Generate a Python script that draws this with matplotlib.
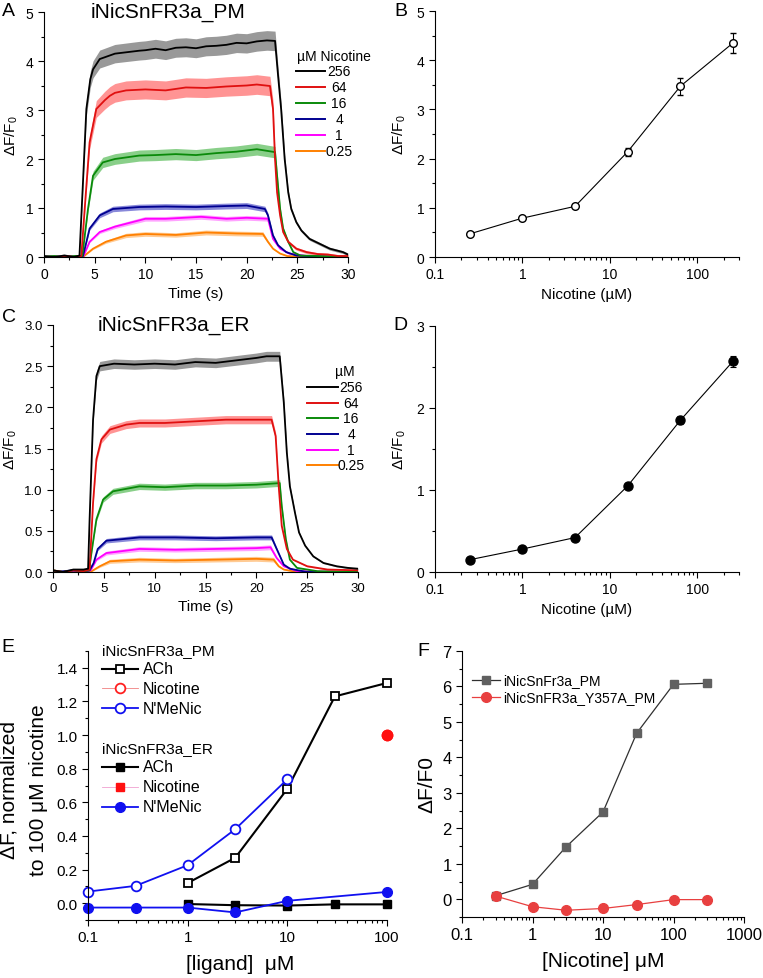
import numpy as np
import matplotlib
matplotlib.use("Agg")
import matplotlib.pyplot as plt
from matplotlib.lines import Line2D
from matplotlib.ticker import MultipleLocator, LogLocator, NullFormatter, FixedLocator

plt.rcParams['font.family'] = ['Liberation Sans', 'DejaVu Sans']
plt.rcParams['mathtext.fontset'] = 'custom'
plt.rcParams['mathtext.rm'] = 'Liberation Sans'
plt.rcParams['mathtext.it'] = 'Liberation Sans:italic'

W, H = 763, 979

# ---------------- data ----------------
conc_labels = ['256', '64', '16', '4', '1', '0.25']
trace_colors = ['black', '#e01010', '#0a8a0a', '#000090', '#ff00ff', '#ff8000']
band_colors = ['#808080', '#ff7a7a', '#6cc46c', '#6a6ad0', '#ff8cff', '#ffbe7a']

# panel A traces (PM), time (s) and dF/F0
tA = [
    [0, 1, 2, 3, 3.5, 3.84, 4.18, 4.57, 4.84, 5.5, 7, 9.4, 10, 11, 12, 13, 14, 15, 16, 17, 18, 19, 20, 21, 22, 22.8, 23.1, 23.4, 23.75, 24.1, 24.4, 24.9, 25.4, 26.2, 27.2, 28.2, 29.5, 30],
    [0, 1, 2, 3, 3.68, 4.1, 4.5, 5.16, 6, 6.5, 7, 8.1, 10, 12, 14, 16, 18, 20, 21, 22.3, 22.6, 22.8, 23.0, 23.3, 23.6, 24.1, 24.9, 25.9, 27, 28, 29, 30],
    [0, 1, 2, 3, 3.78, 4.34, 4.84, 5.8, 7, 9.4, 11, 13, 15, 17, 19, 21, 22.8, 23.0, 23.3, 23.6, 24.1, 24.6, 25.3, 27, 30],
    [0, 1, 2, 3, 3.85, 4.5, 5.5, 6.8, 9.4, 12, 15, 18, 20, 21.8, 22.1, 22.6, 23.1, 23.9, 24.9, 27, 30],
    [0, 1, 2, 3, 3.9, 4.5, 5.5, 7, 10, 12, 15.5, 18, 20, 22.1, 22.6, 23.3, 24.2, 26, 30],
    [0, 1, 2, 3, 3.95, 4.84, 6.1, 8.1, 10, 13, 16, 19, 21.6, 22.1, 22.6, 23.3, 24, 26, 30],
]
yA = [
    [0.02, 0.0, 0.03, 0.0, 0.03, 1.5, 3.02, 3.63, 3.83, 4.04, 4.15, 4.21, 4.22, 4.25, 4.22, 4.27, 4.28, 4.26, 4.3, 4.31, 4.33, 4.37, 4.36, 4.4, 4.42, 4.41, 3.7, 3.02, 2.0, 1.32, 0.98, 0.71, 0.54, 0.37, 0.27, 0.17, 0.1, 0.05],
    [0.0, -0.02, 0.02, 0.0, 0.02, 1.22, 2.34, 3.02, 3.2, 3.29, 3.35, 3.4, 3.42, 3.4, 3.46, 3.45, 3.48, 3.5, 3.52, 3.49, 3.02, 2.0, 1.32, 0.85, 0.51, 0.31, 0.17, 0.1, 0.06, 0.05, 0.02, 0.02],
    [0.0, 0.02, -0.01, 0.02, 0.02, 0.98, 1.66, 1.93, 2.0, 2.07, 2.08, 2.1, 2.08, 2.12, 2.15, 2.2, 2.14, 1.66, 0.98, 0.58, 0.31, 0.1, 0.03, 0.02, 0.0],
    [0.0, 0.01, 0.0, 0.01, 0.02, 0.58, 0.85, 0.98, 1.02, 1.03, 1.02, 1.04, 1.05, 0.98, 0.85, 0.44, 0.24, 0.1, 0.03, 0.01, 0.0],
    [0.0, 0.0, 0.01, 0.0, 0.02, 0.31, 0.51, 0.62, 0.78, 0.78, 0.82, 0.78, 0.8, 0.78, 0.37, 0.17, 0.07, 0.02, 0.0],
    [0.0, 0.01, 0.0, 0.0, 0.02, 0.17, 0.31, 0.44, 0.47, 0.45, 0.5, 0.48, 0.47, 0.31, 0.17, 0.07, 0.02, 0.0, 0.0],
]
errA = [0.2, 0.2, 0.12, 0.06, 0.05, 0.05]

# panel C traces (ER)
tC = [
    [0, 1, 2, 3, 3.45, 3.6, 3.94, 4.27, 4.6, 6, 8, 10, 12, 14, 16, 18, 20, 21, 22.3, 22.7, 23.0, 23.3, 23.8, 24.2, 24.8, 25.6, 26.6, 27.9, 29, 30],
    [0, 1, 2, 3, 3.6, 3.94, 4.27, 4.76, 5.6, 7.2, 8.5, 11, 14, 17, 20, 21.5, 21.9, 22.2, 22.5, 23.0, 23.6, 25.0, 27, 30],
    [0, 1, 2, 3, 3.55, 3.78, 4.27, 4.93, 5.9, 8.5, 11, 14, 17, 20, 22.3, 22.5, 22.9, 23.3, 24.0, 26, 30],
    [0, 1, 2, 3, 3.6, 4.0, 4.4, 5.25, 8.5, 12, 16, 20, 21.5, 22.0, 22.7, 23.3, 25, 30],
    [0, 1, 2, 3, 3.7, 4.27, 5.25, 8.5, 12, 16, 20, 21.4, 22.0, 22.7, 24, 30],
    [0, 1, 2, 3, 3.8, 4.6, 5.6, 8.5, 12, 16, 20, 21.7, 22.2, 22.7, 24, 30],
]
yC = [
    [0.02, 0.0, 0.03, 0.03, 0.04, 0.64, 1.85, 2.38, 2.5, 2.53, 2.52, 2.53, 2.52, 2.55, 2.54, 2.57, 2.6, 2.62, 2.62, 2.06, 1.45, 1.04, 0.72, 0.48, 0.32, 0.19, 0.11, 0.07, 0.05, 0.04],
    [0.02, 0.0, 0.02, 0.01, 0.03, 0.84, 1.37, 1.61, 1.73, 1.79, 1.81, 1.81, 1.83, 1.85, 1.85, 1.85, 1.65, 1.04, 0.56, 0.28, 0.15, 0.07, 0.03, 0.02],
    [0.02, 0.0, 0.02, 0.01, 0.02, 0.23, 0.64, 0.88, 0.98, 1.04, 1.03, 1.05, 1.05, 1.06, 1.08, 0.8, 0.4, 0.15, 0.05, 0.01, 0.0],
    [0.0, 0.01, 0.02, 0.01, 0.02, 0.11, 0.28, 0.38, 0.42, 0.42, 0.41, 0.42, 0.42, 0.28, 0.09, 0.04, 0.0, 0.0],
    [0.0, 0.0, 0.01, 0.0, 0.02, 0.15, 0.23, 0.28, 0.27, 0.28, 0.29, 0.3, 0.17, 0.07, 0.01, 0.0],
    [0.0, 0.0, 0.01, 0.0, 0.01, 0.07, 0.13, 0.15, 0.14, 0.15, 0.16, 0.15, 0.07, 0.03, 0.0, 0.0],
]
errC = [0.06, 0.05, 0.04, 0.03, 0.03, 0.03]

# panels B and D: dose response
dose = [0.25, 1, 4, 16, 64, 256]
resp_pm = [0.47, 0.79, 1.03, 2.14, 3.47, 4.35]
err_pm = [0.03, 0.04, 0.04, 0.08, 0.17, 0.21]
resp_er = [0.15, 0.28, 0.42, 1.05, 1.85, 2.57]
err_er = [0.02, 0.02, 0.02, 0.03, 0.05, 0.07]

# panel E: normalized responses
ach_x = [1, 3, 10, 30, 100]
pm_ach = [0.12, 0.27, 0.68, 1.23, 1.31]
er_ach = [-0.005, -0.012, -0.014, -0.007, -0.007]
nic_x = [100]
pm_nic = [1.0]
er_nic = [1.0]
mnic_pm_x = [0.1, 0.3, 1, 3, 10]
pm_mnic = [0.069, 0.103, 0.226, 0.44, 0.737]
mnic_er_x = [0.1, 0.3, 1, 3, 10, 100]
er_mnic = [-0.026, -0.026, -0.026, -0.055, 0.014, 0.067]

# panel F
nic_f = [0.3, 1, 3, 10, 30, 100, 300]
wt_f = [0.1, 0.42, 1.48, 2.46, 4.68, 6.06, 6.09]
mut_f = [0.09, -0.21, -0.31, -0.26, -0.15, -0.01, -0.01]


def box(x0, y0, x1, y1):
    # pixel box (from top-left) -> figure rect
    return [x0 / W, 1 - y1 / H, (x1 - x0) / W, (y1 - y0) / H]


def style(ax, fs):
    for s in ['top', 'right']:
        ax.spines[s].set_visible(False)
    ax.tick_params(which='both', direction='out', labelsize=fs, width=0.8)
    ax.tick_params(which='major', length=4)
    ax.tick_params(which='minor', length=2)


def log_axis(ax):
    ax.set_xscale('log')
    ax.xaxis.set_major_locator(LogLocator(base=10))
    ax.xaxis.set_minor_locator(LogLocator(base=10, subs=np.arange(2, 10)))
    ax.xaxis.set_minor_formatter(NullFormatter())
    ax.xaxis.set_major_formatter(plt.FuncFormatter(lambda v, p: ('%g' % v)))


def text(x, y, s, **kw):
    fig.text(x / W, 1 - y / H, s, **kw)


def legend_line(x0, x1, y, color, lw=1.5, marker=None, **kw):
    xs = [x0 / W, x1 / W]
    ys = [1 - y / H, 1 - y / H]
    fig.add_artist(Line2D(xs, ys, color=color, lw=lw, transform=fig.transFigure))
    if marker:
        fig.add_artist(Line2D([(x0 + x1) / 2 / W], [1 - y / H], marker=marker, transform=fig.transFigure, **kw))


def traces(ax, ts, ys, errs):
    # shaded s.e.m. band (scaled with the response), then the mean trace
    for t, y, bc, e in zip(ts, ys, band_colors, errs):
        t = np.array(t)
        y = np.array(y)
        band = e * np.clip(y / max(y), 0.15, 1)
        ax.fill_between(t, y - band, y + band, color=bc, alpha=0.8, lw=0)
    for t, y, c in zip(ts[::-1], ys[::-1], trace_colors[::-1]):
        ax.plot(t, y, color=c, lw=1.3)


fig = plt.figure(figsize=(W / 100, H / 100), dpi=100)

# ---------------- A ----------------
axA = fig.add_axes(box(44, 13, 348, 258))
traces(axA, tA, yA, errA)
axA.set_xlim(0, 30)
axA.set_ylim(0, 5)
axA.xaxis.set_major_locator(MultipleLocator(5))
axA.xaxis.set_minor_locator(MultipleLocator(2.5))
axA.yaxis.set_major_locator(MultipleLocator(1))
axA.yaxis.set_minor_locator(MultipleLocator(0.5))
style(axA, 10)
axA.set_xlabel('Time (s)', fontsize=11, labelpad=3)
axA.set_ylabel(r'ΔF/F$_0$', fontsize=11, labelpad=4)
text(168, 12, 'iNicSnFR3a_PM', fontsize=15, ha='center', va='center')
text(297, 57, 'µM Nicotine', fontsize=10, ha='left', va='center')
rowsA = [72.3, 88.3, 104, 120, 136, 151.7]
for yy, lab, c in zip(rowsA, conc_labels, trace_colors):
    legend_line(296, 325, yy, c, lw=1.4)
    text(339, yy, lab, fontsize=10, ha='center', va='center')

# ---------------- B ----------------
axB = fig.add_axes(box(435, 12, 739, 258))
axB.errorbar(dose, resp_pm, yerr=err_pm, color='black', lw=0.8, marker='o', ms=5.5,
             mfc='white', mec='black', mew=1.0, capsize=2.5, elinewidth=0.8, capthick=0.8)
log_axis(axB)
axB.set_xlim(0.1, 300)
axB.set_ylim(0, 5)
axB.yaxis.set_major_locator(MultipleLocator(1))
axB.yaxis.set_minor_locator(MultipleLocator(0.5))
style(axB, 10)
axB.set_xlabel('Nicotine (µM)', fontsize=11, labelpad=4)
axB.set_ylabel(r'ΔF/F$_0$', fontsize=11, labelpad=6)

# ---------------- C ----------------
axC = fig.add_axes(box(53, 326, 358, 573))
traces(axC, tC, yC, errC)
axC.set_xlim(0, 30)
axC.set_ylim(0, 3)
axC.xaxis.set_major_locator(MultipleLocator(5))
axC.xaxis.set_minor_locator(MultipleLocator(2.5))
axC.yaxis.set_major_locator(MultipleLocator(0.5))
axC.yaxis.set_minor_locator(MultipleLocator(0.25))
axC.yaxis.set_major_formatter(plt.FuncFormatter(lambda v, p: '%.1f' % v))
style(axC, 9.5)
axC.set_xlabel('Time (s)', fontsize=11, labelpad=3)
axC.set_ylabel(r'ΔF/F$_0$', fontsize=11, labelpad=4)
text(174, 325, 'iNicSnFR3a_ER', fontsize=15, ha='center', va='center')
text(335, 372, 'µM', fontsize=10, ha='left', va='center')
rowsC = [388.3, 404, 419.3, 435, 450.7, 466]
for yy, lab, c in zip(rowsC, conc_labels, trace_colors):
    legend_line(307, 338, yy, c, lw=1.4)
    text(351, yy, lab, fontsize=10, ha='center', va='center')

# ---------------- D ----------------
axD = fig.add_axes(box(435, 327, 739, 573))
axD.errorbar(dose, resp_er, yerr=err_er, color='black', lw=0.8, marker='o', ms=6.5,
             mfc='black', mec='black', capsize=2.5, elinewidth=0.8, capthick=0.8)
log_axis(axD)
axD.set_xlim(0.1, 300)
axD.set_ylim(0, 3)
axD.yaxis.set_major_locator(MultipleLocator(1))
axD.yaxis.set_minor_locator(MultipleLocator(0.5))
style(axD, 10)
axD.set_xlabel('Nicotine (µM)', fontsize=11, labelpad=4)
axD.set_ylabel(r'ΔF/F$_0$', fontsize=11, labelpad=6)

# ---------------- E ----------------
blue = '#1010f0'
axE = fig.add_axes(box(88, 652, 387, 921))
axE.plot(ach_x, er_ach, color='black', lw=1.5, marker='s', ms=6, mfc='black', mec='black', clip_on=False)
axE.plot(mnic_er_x, er_mnic, color=blue, lw=1.3, marker='o', ms=7, mfc=blue, mec=blue, clip_on=False)
axE.plot(ach_x, pm_ach, color='black', lw=1.5, marker='s', ms=6, mfc='white', mec='black', mew=1.3, clip_on=False)
axE.plot(mnic_pm_x, pm_mnic, color=blue, lw=1.3, marker='o', ms=7, mfc='white', mec=blue, mew=1.3, clip_on=False)
axE.plot(nic_x, pm_nic, color='#f08080', lw=0.6, marker='o', ms=7, mfc='white', mec='#ff2020', mew=1.3, clip_on=False)
axE.plot(nic_x, er_nic, color='#f0a0d0', lw=0.6, marker='o', ms=7.5, mfc='#ff1010', mec='#ff1010', clip_on=False)
log_axis(axE)
axE.set_xlim(0.1, 100)
axE.set_ylim(-0.1, 1.5)
axE.yaxis.set_major_locator(FixedLocator([0, 0.2, 0.4, 0.6, 0.8, 1.0, 1.2, 1.4]))
axE.yaxis.set_minor_locator(MultipleLocator(0.1))
axE.yaxis.set_major_formatter(plt.FuncFormatter(lambda v, p: '%.1f' % v))
style(axE, 11)
text(240, 965, '[ligand]  μM', fontsize=15, ha='center', va='center')
text(9, 790, 'ΔF, normalized', fontsize=15, rotation=90, ha='center', va='center')
text(39, 790, 'to 100 μM nicotine', fontsize=15, rotation=90, ha='center', va='center')
text(102, 651, 'iNicSnFR3a_PM', fontsize=11, ha='left', va='center')
text(102, 749, 'iNicSnFR3a_ER', fontsize=11, ha='left', va='center')
legE = [
    (670, 'ACh', 'black', 1.5, 's', dict(ms=6, mfc='white', mec='black', mew=1.3)),
    (689, 'Nicotine', '#f08080', 0.6, 'o', dict(ms=7, mfc='white', mec='#ff2020', mew=1.3)),
    (709, "N'MeNic", blue, 1.3, 'o', dict(ms=7, mfc='white', mec=blue, mew=1.3)),
    (768, 'ACh', 'black', 1.5, 's', dict(ms=6, mfc='black', mec='black')),
    (788, 'Nicotine', '#f0a0d0', 0.6, 's', dict(ms=6, mfc='#ff1010', mec='#ff1010')),
    (808, "N'MeNic", blue, 1.3, 'o', dict(ms=7, mfc=blue, mec=blue)),
]
for yy, lab, c, lw, mk, kw in legE:
    legend_line(102, 138, yy, c, lw=lw, marker=mk, **kw)
    text(143, yy, lab, fontsize=11.5, ha='left', va='center')

# ---------------- F ----------------
gray = '#606060'
axF = fig.add_axes(box(462, 652, 744, 918))
axF.plot(nic_f, wt_f, color='#303030', lw=0.9, marker='s', ms=6, mfc=gray, mec=gray)
axF.plot(nic_f, mut_f, color='#e84040', lw=0.9, marker='o', ms=7, mfc='#e84040', mec='#e84040')
log_axis(axF)
axF.set_xlim(0.1, 1000)
axF.set_ylim(-0.5, 7)
axF.yaxis.set_major_locator(MultipleLocator(1))
axF.yaxis.set_minor_locator(MultipleLocator(0.5))
style(axF, 12)
text(603, 962, '[Nicotine] μM', fontsize=15, ha='center', va='center')
axF.set_ylabel('ΔF/F0', fontsize=15, labelpad=4)
legend_line(472, 500, 681, '#303030', lw=0.9, marker='s', ms=6, mfc=gray, mec=gray)
text(503, 681, 'iNicSnFr3a_PM', fontsize=10, ha='left', va='center')
legend_line(472, 500, 698, '#e84040', lw=0.9, marker='o', ms=7, mfc='#e84040', mec='#e84040')
text(503, 698, 'iNicSnFR3a_Y357A_PM', fontsize=10, ha='left', va='center')

# panel letters
for lab, x, y in [('A', 8, 12), ('B', 401, 11), ('C', 9, 318), ('D', 400, 325), ('E', 8, 648), ('F', 423, 652)]:
    text(x, y, lab, fontsize=14, ha='center', va='center')

fig.savefig('out.png', dpi=100)
